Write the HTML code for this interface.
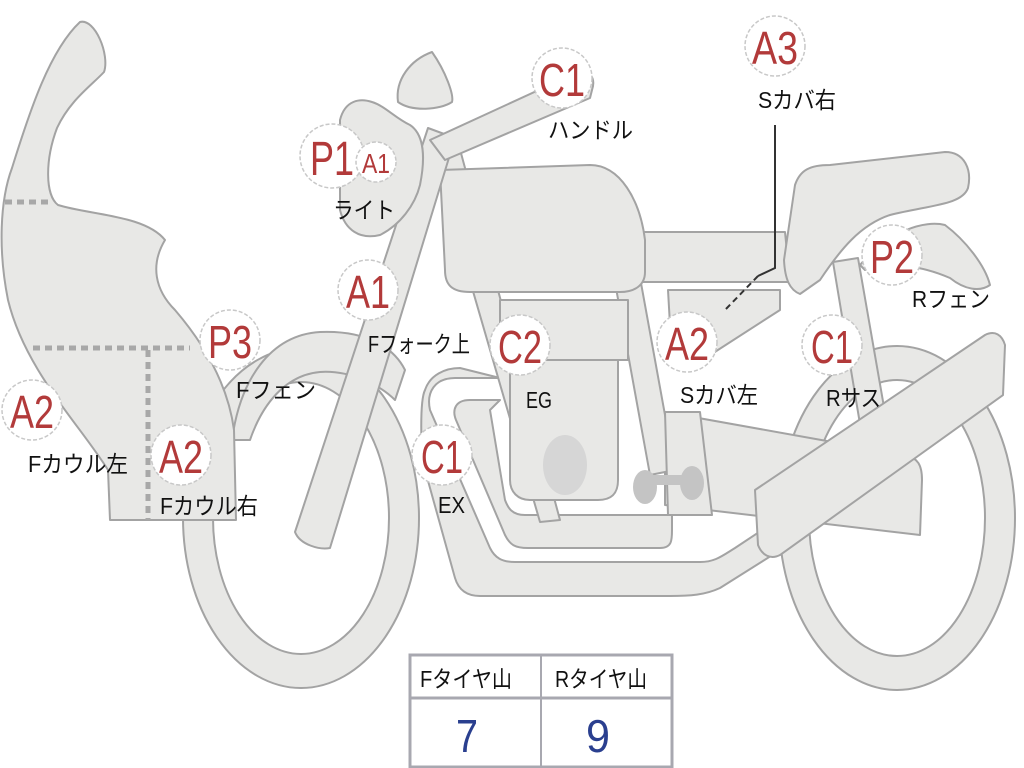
<!DOCTYPE html>
<html><head><meta charset="utf-8"><style>
html,body{margin:0;padding:0;background:#fff;}
svg{display:block}
.s{fill:#e8e8e6;stroke:#a3a3a3;stroke-width:2;stroke-linejoin:round}
.c{fill:#fff;stroke:#c8c8c8;stroke-width:1.5;stroke-dasharray:4 2}
.r{fill:#b23a3a;font-family:"Liberation Sans",sans-serif}
.j{fill:#111;font-family:"Liberation Sans","Noto Sans CJK JP",sans-serif;font-size:23px}
</style></head><body>
<svg width="1024" height="768" viewBox="0 0 1024 768" xmlns="http://www.w3.org/2000/svg">
<!-- wheels -->
<ellipse class="s" cx="301" cy="518" rx="118" ry="170"/>
<ellipse cx="301" cy="518" rx="88" ry="136" fill="#fff" stroke="#a3a3a3" stroke-width="2"/>
<ellipse class="s" cx="897" cy="518" rx="118" ry="172"/>
<ellipse cx="897" cy="518" rx="88" ry="138" fill="#fff" stroke="#a3a3a3" stroke-width="2"/>
<!-- front fender -->
<path class="s" d="M232,440 C240,380 270,335 320,332 C370,330 395,350 405,370 L395,400 C380,385 350,370 320,372 C285,375 262,405 250,440 Z"/>
<!-- exhaust pipes -->
<path class="s" d="M500,378 L455,378 C435,378 426,392 430,410 L490,548 C495,558 502,562 515,562 L700,562 C715,562 722,556 735,548 L800,505 L812,530 L720,588 C705,595 690,596 670,596 L480,596 C465,596 458,588 455,578 L425,470 C420,450 420,400 425,390 C430,375 445,368 460,368 Z" />
<path class="s" d="M500,400 L470,400 C455,400 452,410 456,420 L505,535 C510,545 515,548 528,548 L660,548 C672,548 672,540 672,530 L672,515 L525,515 C512,515 508,508 505,500 L490,410 Z"/>
<!-- swingarm -->
<path class="s" d="M665,412 L905,455 C918,458 922,465 922,480 L920,535 L665,505 Z"/>
<!-- frame downtube -->
<path class="s" d="M432,150 L458,142 L560,520 L540,522 Z"/>
<path class="s" d="M600,200 L625,195 L675,470 L650,475 Z"/>
<!-- engine -->
<path class="s" d="M500,300 L628,300 L628,360 L500,360 Z"/>
<path class="s" d="M510,360 L618,360 L618,480 C618,495 610,500 598,500 L530,500 C518,500 510,492 510,480 Z"/>
<ellipse cx="565" cy="465" rx="22" ry="30" fill="#d6d6d6"/>
<path class="s" d="M665,412 L700,412 L712,515 L668,515 Z"/>
<path d="M640,480 L695,480" stroke="#c4c4c4" stroke-width="10"/>
<ellipse cx="645" cy="487" rx="12" ry="17" fill="#c4c4c4"/><ellipse cx="692" cy="483" rx="12" ry="17" fill="#c4c4c4"/>
<!-- rear shock -->
<path class="s" d="M833,262 L858,258 L888,430 L862,436 Z"/>
<!-- rear fender -->
<path class="s" d="M860,265 C890,230 925,220 945,225 C965,240 985,265 990,285 C980,292 965,290 950,278 C920,265 890,262 865,270 Z"/>
<!-- seat & tail -->
<path class="s" d="M640,232 L785,232 L790,282 L640,282 C632,282 630,275 630,265 L632,240 Z"/>
<path class="s" d="M795,185 C800,170 810,165 830,165 L945,152 C965,152 972,170 968,188 C962,205 930,205 890,215 C860,225 840,250 820,280 L800,294 C790,290 785,280 784,260 Z"/>
<!-- side cover -->
<path class="s" d="M668,290 L780,290 L780,310 L690,368 L672,360 Z"/>
<!-- tank -->
<path class="s" d="M440,170 L590,165 C620,165 640,200 645,240 L645,272 C645,285 635,292 620,292 L470,292 C452,292 445,285 445,270 Z"/>
<!-- muffler -->
<path class="s" d="M755,490 L985,335 C995,330 1002,335 1005,345 L1003,395 L780,555 C770,560 762,555 758,545 Z"/>
<!-- fork -->
<path class="s" d="M295,532 L428,128 L455,138 L330,548 C320,550 300,545 295,532 Z"/>
<!-- handlebar -->
<path class="s" d="M430,140 L578,72 C590,70 596,78 592,90 L590,98 L445,160 Z"/>
<!-- windscreen tab -->
<path class="s" d="M398,102 C395,80 410,60 432,52 C446,72 454,95 452,102 C440,110 412,112 398,102 Z"/>
<!-- headlight -->
<path class="s" d="M340,120 C345,100 360,98 372,102 C385,106 395,118 410,125 C425,135 425,160 420,185 C415,205 400,225 380,235 C360,240 345,230 340,210 Z"/>
<!-- fairing -->
<path class="s" d="M80,22 C95,18 110,55 104,72 C92,85 70,100 57,128 C45,160 45,195 58,205 C90,215 145,215 165,240 C150,265 155,290 175,310 C205,345 228,385 234,430 L236,520 L110,520 L108,470 C80,425 25,370 8,300 C-2,250 0,200 12,168 C30,110 50,50 80,22 Z"/>
<path d="M5,202 H48 M33,348 H190 M148,350 V520" stroke="#a8a8a8" stroke-width="5" stroke-dasharray="7 5" fill="none"/>
<!-- A3 leader -->
<path d="M775,125 V268 L758,276" stroke="#333" stroke-width="2" fill="none"/>
<path d="M758,276 L725,310" stroke="#333" stroke-width="2" stroke-dasharray="6 4" fill="none"/>
<!-- circles -->
<g>
<circle class="c" cx="562" cy="78" r="30"/><text class="r" x="562" y="96" font-size="46" text-anchor="middle" textLength="46" lengthAdjust="spacingAndGlyphs">C1</text>
<circle class="c" cx="775" cy="46" r="30"/><text class="r" x="775" y="64" font-size="46" text-anchor="middle" textLength="46" lengthAdjust="spacingAndGlyphs">A3</text>
<circle class="c" cx="332" cy="156" r="32"/><text class="r" x="332" y="175" font-size="48" text-anchor="middle" textLength="44" lengthAdjust="spacingAndGlyphs">P1</text>
<circle class="c" cx="376" cy="162" r="20"/><text class="r" x="376" y="173" font-size="28" text-anchor="middle" textLength="28" lengthAdjust="spacingAndGlyphs">A1</text>
<circle class="c" cx="368" cy="290" r="30"/><text class="r" x="368" y="308" font-size="46" text-anchor="middle" textLength="44" lengthAdjust="spacingAndGlyphs">A1</text>
<circle class="c" cx="230" cy="340" r="30"/><text class="r" x="230" y="358" font-size="46" text-anchor="middle" textLength="44" lengthAdjust="spacingAndGlyphs">P3</text>
<circle class="c" cx="520" cy="345" r="30"/><text class="r" x="520" y="363" font-size="46" text-anchor="middle" textLength="44" lengthAdjust="spacingAndGlyphs">C2</text>
<circle class="c" cx="687" cy="342" r="30"/><text class="r" x="687" y="360" font-size="46" text-anchor="middle" textLength="44" lengthAdjust="spacingAndGlyphs">A2</text>
<circle class="c" cx="832" cy="345" r="30"/><text class="r" x="832" y="363" font-size="46" text-anchor="middle" textLength="42" lengthAdjust="spacingAndGlyphs">C1</text>
<circle class="c" cx="892" cy="255" r="30"/><text class="r" x="892" y="273" font-size="46" text-anchor="middle" textLength="44" lengthAdjust="spacingAndGlyphs">P2</text>
<circle class="c" cx="32" cy="410" r="30"/><text class="r" x="32" y="428" font-size="46" text-anchor="middle" textLength="44" lengthAdjust="spacingAndGlyphs">A2</text>
<circle class="c" cx="181" cy="455" r="30"/><text class="r" x="181" y="473" font-size="46" text-anchor="middle" textLength="44" lengthAdjust="spacingAndGlyphs">A2</text>
<circle class="c" cx="442" cy="455" r="30"/><text class="r" x="442" y="473" font-size="46" text-anchor="middle" textLength="42" lengthAdjust="spacingAndGlyphs">C1</text>
</g>
<!-- labels -->
<g class="j">
<text x="548" y="138" textLength="85" lengthAdjust="spacingAndGlyphs">ハンドル</text>
<text x="758" y="108" textLength="78" lengthAdjust="spacingAndGlyphs">Sカバ右</text>
<text x="333" y="218" textLength="62" lengthAdjust="spacingAndGlyphs">ライト</text>
<text x="368" y="352" textLength="102" lengthAdjust="spacingAndGlyphs">Fフォーク上</text>
<text x="236" y="398" textLength="80" lengthAdjust="spacingAndGlyphs">Fフェン</text>
<text x="526" y="408" textLength="26" lengthAdjust="spacingAndGlyphs">EG</text>
<text x="680" y="403" textLength="78" lengthAdjust="spacingAndGlyphs">Sカバ左</text>
<text x="826" y="406" textLength="55" lengthAdjust="spacingAndGlyphs">Rサス</text>
<text x="912" y="307" textLength="78" lengthAdjust="spacingAndGlyphs">Rフェン</text>
<text x="28" y="472" textLength="100" lengthAdjust="spacingAndGlyphs">Fカウル左</text>
<text x="160" y="514" textLength="98" lengthAdjust="spacingAndGlyphs">Fカウル右</text>
<text x="438" y="513" textLength="27" lengthAdjust="spacingAndGlyphs">EX</text>
</g>
<!-- table -->
<rect x="410" y="655" width="262" height="112" fill="#fff" stroke="#a8a8b0" stroke-width="3"/>
<line x1="410" y1="698" x2="672" y2="698" stroke="#a8a8b0" stroke-width="3"/>
<line x1="541" y1="655" x2="541" y2="768" stroke="#a8a8b0" stroke-width="2"/>
<text class="j" x="420" y="687" textLength="92" lengthAdjust="spacingAndGlyphs">Fタイヤ山</text>
<text class="j" x="555" y="687" textLength="92" lengthAdjust="spacingAndGlyphs">Rタイヤ山</text>
<text x="467" y="752" font-size="46" fill="#2a3f8f" font-family="Liberation Sans,sans-serif" text-anchor="middle" textLength="22" lengthAdjust="spacingAndGlyphs">7</text>
<text x="598" y="752" font-size="46" fill="#2a3f8f" font-family="Liberation Sans,sans-serif" text-anchor="middle" textLength="24" lengthAdjust="spacingAndGlyphs">9</text>
</svg>
</body></html>
